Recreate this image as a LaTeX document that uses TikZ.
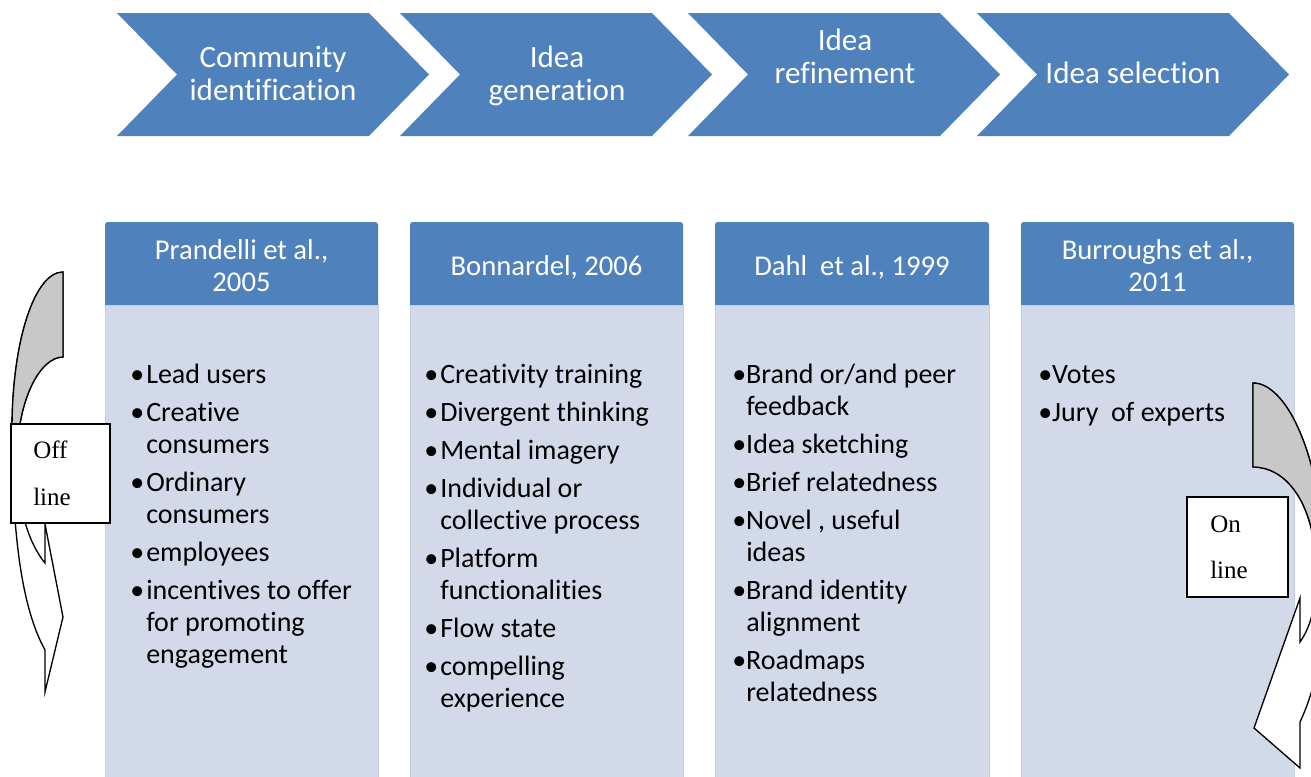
\documentclass[tikz,border=0pt]{standalone}
\usepackage{fontspec}
\usepackage{array}
\setmainfont{Carlito}[Ligatures={NoCommon}]
\newfontfamily\tagserif{Liberation Serif}
\definecolor{stepblue}{HTML}{4F81BD}
\definecolor{bodyfill}{HTML}{D2D9E8}
\definecolor{bodyline}{HTML}{C4CEE2}
\definecolor{foldgray}{HTML}{C8C8C8}
\newcommand\itemgap{\\[4.5pt]}

\begin{document}
\begin{tikzpicture}[x=0.75pt,y=-0.75pt,
  chevshape/.style={fill=stepblue},
  chevtext/.style={text=white,font=\fontsize{23.3}{24.75}\selectfont,inner sep=0pt,anchor=base},
  headshape/.style={fill=stepblue,rounded corners=2pt},
  bodyshape/.style={fill=bodyfill,draw=bodyline,line width=0.75pt},
  headtext/.style={text=white,font=\fontsize{21.5}{24}\selectfont,inner sep=0pt,anchor=base},
  bodytext/.style={text=black,font=\fontsize{21}{24}\selectfont,inner sep=0pt,anchor=base west},
  curlwhite/.style={draw=black,fill=white,line width=1pt,line join=miter},
  curlgray/.style={draw=black,fill=foldgray,line width=1pt,line join=miter},
  tagbox/.style={draw=black,fill=white,line width=1pt,inner sep=0pt},
  tagtext/.style={font=\tagserif\fontsize{18.75}{20}\selectfont,inner sep=0pt,anchor=base west}]

\useasboundingbox (0,0) rectangle (1311,776);
\clip (0,0) rectangle (1311,776);

% ---- process chevrons ----
\fill[chevshape] (117,13) -- (369,13) -- (429,74.5) -- (369,136) -- (117,136) -- (177,74.5) -- cycle;
\fill[chevshape] (400,13) -- (652,13) -- (712,74.5) -- (652,136) -- (400,136) -- (460,74.5) -- cycle;
\fill[chevshape] (688,13) -- (940,13) -- (1000,74.5) -- (940,136) -- (688,136) -- (748,74.5) -- cycle;
\fill[chevshape] (977,13) -- (1229,13) -- (1289,74.5) -- (1229,136) -- (977,136) -- (1037,74.5) -- cycle;

\node[chevtext] (c1) at (273,67) {\begin{tabular}[t]{@{}c@{}}Community\\identification\end{tabular}};
\node[chevtext] (c2) at (557,67) {\begin{tabular}[t]{@{}c@{}}Idea\\generation\end{tabular}};
\node[chevtext] (c3) at (845,50) {\begin{tabular}[t]{@{}c@{}}Idea\\refinement\end{tabular}};
\node[chevtext] (c4) at (1133,83) {Idea selection};

% ---- reference columns ----
\fill[headshape] (105,222) rectangle (378,310);
\fill[headshape] (410,222) rectangle (683,310);
\fill[headshape] (715,222) rectangle (989,310);
\fill[headshape] (1021,222) rectangle (1294,310);
\filldraw[bodyshape] (105,305) rectangle (378,800);
\filldraw[bodyshape] (410,305) rectangle (683,800);
\filldraw[bodyshape] (715,305) rectangle (989,800);
\filldraw[bodyshape] (1021,305) rectangle (1294,800);

\node[headtext] (h1) at (241.5,259) {\begin{tabular}[t]{@{}c@{}}Prandelli et al.,\\2005\end{tabular}};
\node[headtext] (h2) at (546.5,275) {Bonnardel, 2006};
\node[headtext] (h3) at (852,275) {Dahl\ \ et al., 1999};
\node[headtext] (h4) at (1157.5,259) {\begin{tabular}[t]{@{}c@{}}Burroughs et al.,\\2011\end{tabular}};

\node[bodytext] (b1) at (130,383) {\begin{tabular}[t]{@{}p{12pt}@{}l@{}}
\textbullet & Lead users\itemgap
\textbullet & Creative\\
 & consumers\itemgap
\textbullet & Ordinary\\
 & consumers\itemgap
\textbullet & employees\itemgap
\textbullet & incentives to offer\\
 & for promoting\\
 & engagement
\end{tabular}};

\node[bodytext] (b2) at (424,383) {\begin{tabular}[t]{@{}p{12pt}@{}l@{}}
\textbullet & Creativity training\itemgap
\textbullet & Divergent thinking\itemgap
\textbullet & Mental imagery\itemgap
\textbullet & Individual or\\
 & collective process\itemgap
\textbullet & Platform\\
 & functionalities\itemgap
\textbullet & Flow state\itemgap
\textbullet & compelling\\
 & experience
\end{tabular}};

\node[bodytext] (b3) at (732,383) {\begin{tabular}[t]{@{}p{10.5pt}@{}l@{}}
\textbullet & Brand or/and peer\\
 & feedback\itemgap
\textbullet & Idea sketching\itemgap
\textbullet & Brief relatedness\itemgap
\textbullet & Novel , useful\\
 & ideas\itemgap
\textbullet & Brand identity\\
 & alignment\itemgap
\textbullet & Roadmaps\\
 & relatedness
\end{tabular}};

\node[bodytext] (b4) at (1038,383) {\begin{tabular}[t]{@{}p{10.5pt}@{}l@{}}
\textbullet & Votes\itemgap
\textbullet & Jury\ \ of experts
\end{tabular}};

% ---- curled arrow on the left (off line) ----
\path[curlwhite] (63,272) .. controls (35,272) and (12,340) .. (12,430)
  .. controls (12,545) and (24,612) .. (45,650)
  -- (45,692) -- (63,617) -- (45,524) -- (45,563)
  .. controls (30,545) and (17,510) .. (17,460)
  .. controls (17,400) and (40,357) .. (63,357) -- cycle;
\path[curlgray] (63,272) .. controls (35,272) and (12,340) .. (12,430)
  -- (12,470) -- (17,460)
  .. controls (17,400) and (40,357) .. (63,357) -- cycle;

% ---- curled arrow on the right (on line) ----
\path[curlwhite] (1253,383) .. controls (1285,383) and (1320,450) .. (1325,560)
  .. controls (1328,640) and (1315,690) .. (1300,722)
  -- (1300,768) -- (1254,728) -- (1300,598) -- (1300,642)
  .. controls (1312,625) and (1318,600) .. (1316,560)
  .. controls (1312,500) and (1285,467) .. (1253,467) -- cycle;
\path[curlgray] (1253,383) .. controls (1285,383) and (1320,450) .. (1325,560)
  -- (1316,560)
  .. controls (1312,500) and (1285,467) .. (1253,467) -- cycle;

% ---- channel tags ----
\node[tagbox,minimum width=74.25pt,minimum height=74.25pt] (offtag) at (60.5,473.5) {};
\node[tagtext] (offA) at (33,458) {Off};
\node[tagtext] (offB) at (33,505) {line};
\node[tagbox,minimum width=75.75pt,minimum height=75pt] (ontag) at (1237.5,547) {};
\node[tagtext] (onA) at (1210,532) {On};
\node[tagtext] (onB) at (1210,578) {line};

\end{tikzpicture}
\end{document}
